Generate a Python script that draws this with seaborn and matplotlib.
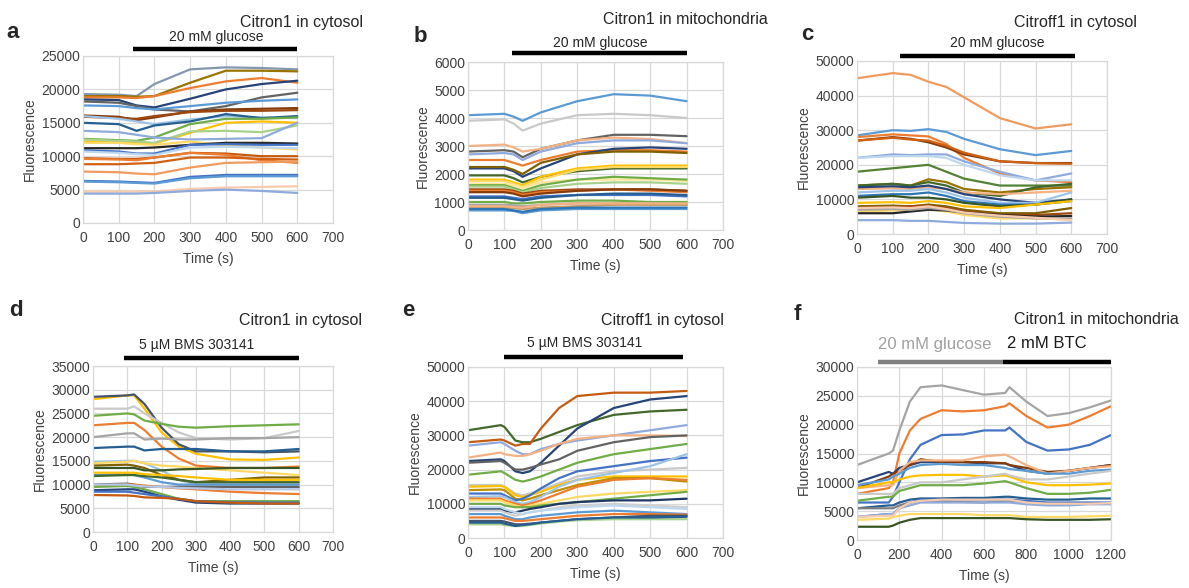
import matplotlib
matplotlib.use('Agg')
import matplotlib.pyplot as plt
import seaborn as sns
import pandas as pd

# ---- data (time in s, fluorescence in a.u.) ----
A_TIME = [0, 100, 150, 200, 300, 400, 500, 600]
A_TRACES = [
    [19300, 19200, 19000, 20800, 23000, 23300, 23200, 23000],
    [19000, 19000, 18900, 19000, 21000, 22800, 22800, 22700],
    [18800, 18800, 18700, 19000, 20200, 21200, 21700, 21000],
    [18500, 18400, 17600, 17300, 18600, 20000, 20800, 21300],
    [18200, 18000, 17500, 17000, 16700, 17500, 18800, 19500],
    [17600, 17500, 17200, 17000, 17500, 18000, 18300, 18500],
    [16100, 15900, 15400, 15800, 16700, 17000, 17100, 17200],
    [15900, 15700, 15600, 16000, 16600, 16800, 16800, 16900],
    [16000, 15600, 15200, 14800, 15500, 16000, 15800, 15700],
    [15000, 14800, 13800, 14600, 15200, 16300, 15700, 16000],
    [12600, 12400, 12300, 12800, 14800, 15600, 15600, 15800],
    [12200, 12100, 12000, 11900, 13500, 15000, 15200, 15000],
    [12500, 12300, 12200, 12000, 13700, 13800, 13600, 14600],
    [13800, 13600, 13200, 12800, 12500, 12600, 12700, 15000],
    [12000, 12000, 11800, 11700, 12200, 11600, 11300, 11000],
    [11200, 11200, 11200, 11300, 11700, 12000, 12000, 11900],
    [10900, 10700, 10400, 10400, 11700, 11800, 11700, 11700],
    [10700, 10500, 10300, 10200, 11300, 11400, 11300, 11200],
    [9700, 9600, 9600, 9800, 10500, 10400, 10000, 10000],
    [9600, 9500, 9400, 9800, 10500, 10200, 9400, 9000],
    [8800, 8800, 8900, 9000, 9800, 9800, 9600, 9500],
    [7700, 7600, 7400, 7300, 8300, 9000, 9100, 9200],
    [6300, 6200, 6100, 6000, 6900, 7200, 7200, 7200],
    [6200, 6100, 6000, 5900, 6700, 7000, 7000, 7000],
    [4700, 4700, 4700, 4700, 5100, 5300, 5400, 5500],
    [4400, 4400, 4400, 4500, 4800, 5000, 4800, 4500],
]

B_TIME = [0, 100, 125, 150, 200, 300, 400, 500, 600]
B_TRACES = [
    [4100, 4150, 4050, 3900, 4200, 4600, 4850, 4800, 4600],
    [3900, 3950, 3800, 3550, 3800, 4100, 4150, 4100, 4000],
    [2800, 2850, 2800, 2600, 2900, 3200, 3400, 3400, 3350],
    [3000, 3050, 2950, 2800, 2900, 3200, 3300, 3250, 3100],
    [2700, 2750, 2700, 2500, 2800, 3100, 3200, 3200, 3100],
    [2500, 2500, 2400, 2300, 2500, 2800, 2850, 2850, 2800],
    [2200, 2200, 2100, 1900, 2200, 2700, 2900, 2950, 2900],
    [2250, 2250, 2150, 2000, 2400, 2700, 2800, 2800, 2750],
    [1950, 1950, 1850, 1700, 1900, 2100, 2200, 2200, 2200],
    [1800, 1800, 1700, 1600, 1900, 2200, 2300, 2300, 2300],
    [1750, 1750, 1650, 1550, 1800, 2150, 2250, 2250, 2250],
    [1650, 1650, 1600, 1500, 1700, 1800, 1800, 1800, 1750],
    [1600, 1600, 1500, 1400, 1600, 1800, 1900, 1850, 1800],
    [1550, 1550, 1450, 1350, 1500, 1650, 1700, 1700, 1650],
    [1450, 1450, 1400, 1300, 1400, 1450, 1450, 1450, 1400],
    [1400, 1400, 1350, 1250, 1350, 1400, 1450, 1400, 1350],
    [1350, 1350, 1300, 1200, 1300, 1400, 1450, 1450, 1400],
    [1200, 1200, 1150, 1100, 1200, 1250, 1250, 1250, 1200],
    [1150, 1150, 1100, 1050, 1150, 1250, 1300, 1300, 1250],
    [1000, 1000, 950, 950, 1000, 1050, 1050, 1000, 1000],
    [900, 900, 880, 850, 900, 950, 950, 950, 900],
    [800, 800, 780, 750, 800, 850, 900, 900, 900],
    [850, 850, 820, 800, 900, 950, 950, 950, 950],
    [700, 700, 680, 600, 700, 750, 750, 750, 750],
    [750, 750, 700, 650, 750, 800, 800, 800, 800],
]

C_TIME = [0, 100, 150, 200, 250, 300, 400, 500, 600]
C_TRACES = [
    [45000, 46500, 46000, 44000, 42500, 39500, 33500, 30500, 31700],
    [28500, 30000, 29800, 30300, 29500, 27500, 24500, 22800, 24000],
    [28000, 28800, 28500, 28200, 26000, 22000, 17500, 15500, 15000],
    [27000, 28000, 27500, 26500, 25000, 23000, 21000, 20500, 20500],
    [27000, 27800, 27300, 27000, 25500, 23500, 21000, 20500, 20300],
    [22000, 23000, 22800, 23000, 23000, 21000, 18000, 15500, 17500],
    [22000, 22500, 22500, 22500, 22000, 20000, 17000, 15500, 15500],
    [18000, 19000, 19500, 20000, 18000, 16000, 14000, 14000, 14000],
    [14000, 14500, 14000, 15800, 15000, 13000, 12000, 13000, 13500],
    [14000, 14500, 14000, 15000, 14000, 12000, 11000, 13500, 14500],
    [13000, 13200, 13000, 13500, 13000, 12000, 11500, 12000, 12500],
    [13500, 13800, 13500, 14000, 13000, 11500, 10000, 9000, 10000],
    [12000, 12500, 12500, 13000, 12000, 10500, 9000, 9000, 12000],
    [11000, 11500, 11500, 12000, 11000, 9500, 8500, 8500, 9500],
    [10500, 11000, 10500, 10500, 10000, 9000, 8000, 8500, 10000],
    [9000, 9200, 9000, 9500, 9000, 8000, 7500, 8500, 9500],
    [8000, 8200, 8000, 8500, 8000, 7000, 6000, 6000, 7500],
    [7500, 7800, 8000, 8200, 7500, 6500, 5500, 5500, 6000],
    [6500, 6800, 7000, 7200, 6500, 5500, 4500, 4500, 4200],
    [6000, 6000, 6500, 7000, 6800, 6200, 5500, 5000, 5200],
    [7000, 7200, 7000, 7500, 7000, 6000, 5000, 4500, 4500],
    [4000, 4000, 3800, 3800, 3500, 3200, 3000, 3000, 3300],
    [7500, 7700, 7500, 8000, 7200, 6200, 5300, 4700, 4000],
]

D_TIME = [0, 100, 120, 150, 200, 250, 300, 400, 500, 600]
D_TRACES = [
    [28000, 28800, 28800, 26000, 21000, 18000, 16500, 15300, 15200, 15700],
    [28500, 28800, 29000, 27000, 22000, 18500, 17000, 17000, 16800, 17000],
    [26000, 26000, 26500, 25000, 23000, 21000, 19800, 19500, 19800, 21300],
    [24500, 25000, 24800, 23500, 22800, 22200, 22000, 22300, 22500, 22700],
    [22500, 23000, 23000, 21500, 18000, 15500, 14000, 13500, 13500, 13800],
    [20000, 20800, 20800, 19500, 19700, 19500, 19500, 19800, 19800, 20000],
    [17700, 18000, 18000, 17200, 17500, 17500, 17500, 17000, 17000, 17500],
    [14800, 15000, 15000, 14500, 13000, 11000, 10000, 10000, 10000, 10000],
    [14500, 14800, 15000, 14500, 14000, 13800, 13500, 13000, 12500, 12000],
    [14000, 14200, 14000, 13500, 12000, 11000, 10500, 11000, 11500, 11500],
    [13500, 13500, 13500, 13000, 13000, 13200, 13300, 13500, 13500, 13500],
    [12000, 12200, 12000, 11500, 10500, 10000, 10000, 10000, 10000, 10000],
    [11800, 12000, 12000, 11800, 11500, 11000, 10500, 10500, 10500, 10500],
    [12500, 12500, 12500, 12200, 12000, 11800, 11500, 11000, 11000, 11000],
    [10000, 10200, 10000, 9500, 9500, 9500, 9500, 9500, 9500, 9500],
    [9800, 10000, 10000, 9800, 9500, 9200, 9000, 8500, 8200, 8000],
    [9500, 9700, 9500, 9000, 8000, 7000, 6500, 6500, 6500, 6500],
    [8800, 9000, 9000, 8500, 7500, 6800, 6200, 6000, 6000, 6000],
    [8500, 8500, 8300, 8000, 7500, 7000, 6500, 6300, 6200, 6200],
    [7800, 7700, 7600, 7300, 7200, 7000, 6500, 6200, 6000, 6000],
    [10000, 10000, 9800, 9600, 9500, 9300, 9200, 9000, 9000, 9000],
]

E_TIME = [0, 90, 100, 130, 150, 170, 200, 250, 300, 400, 500, 600]
E_TRACES = [
    [31500, 33000, 32500, 28500, 28000, 28000, 29000, 31000, 33000, 36000, 37000, 37500],
    [28000, 28800, 28500, 27000, 27500, 27500, 32000, 38000, 41500, 42500, 42500, 43000],
    [27000, 28000, 27500, 25500, 24500, 24500, 26000, 27500, 28500, 30000, 31500, 33000],
    [22500, 23000, 22500, 19500, 19000, 19500, 22000, 27000, 32000, 38000, 40500, 41500],
    [23500, 25000, 24500, 24000, 24000, 24500, 25500, 27500, 29000, 30000, 30000, 29800],
    [22000, 22500, 22000, 20000, 20000, 20500, 21500, 23000, 25500, 28000, 29500, 30000],
    [18500, 19500, 19000, 17000, 16500, 17000, 18000, 20000, 22000, 24500, 26000, 27500],
    [15500, 15500, 15000, 13000, 12500, 13000, 14000, 16000, 18000, 19500, 20000, 20500],
    [15000, 15200, 15000, 12500, 12000, 12500, 13500, 15500, 17000, 18000, 18000, 18000],
    [14000, 14200, 14000, 11500, 11000, 11500, 12500, 14000, 15500, 17500, 17500, 16500],
    [13000, 13000, 12500, 11000, 11500, 12500, 14500, 17500, 19500, 21000, 22500, 23500],
    [12000, 12200, 12000, 10500, 10000, 10500, 12000, 15000, 17000, 19000, 21000, 24500],
    [11500, 11500, 11000, 10000, 9500, 10000, 11000, 13000, 15000, 17000, 17500, 17000],
    [11000, 11000, 10500, 9500, 9000, 9500, 10000, 11000, 12000, 13000, 13500, 14000],
    [10000, 10000, 9500, 9000, 9000, 9000, 9500, 10000, 10500, 11500, 12500, 13500],
    [8500, 8500, 8000, 7500, 8000, 8500, 9000, 10000, 10500, 11000, 11000, 11500],
    [8000, 8000, 7500, 6500, 7000, 7500, 8000, 9000, 9500, 10000, 9500, 9000],
    [7000, 7000, 6500, 5500, 5500, 6000, 6500, 7000, 7500, 8000, 7500, 7000],
    [6000, 6000, 5800, 5000, 5000, 5200, 5500, 6000, 6500, 7000, 7000, 6800],
    [5000, 5000, 4800, 4000, 4000, 4200, 4500, 5000, 5500, 6000, 6500, 6500],
    [4000, 4000, 3800, 3500, 3500, 3800, 4200, 4800, 5200, 5500, 5500, 5500],
    [4500, 4500, 4200, 3500, 3800, 4000, 4500, 5000, 5500, 6000, 6000, 6200],
    [9000, 9000, 8500, 7500, 7000, 7500, 8000, 8500, 9000, 9500, 9000, 8500],
]

F_TIME = [0, 150, 170, 200, 250, 300, 400, 500, 600, 700, 720, 800, 900, 1000, 1100, 1200]
F_TRACES = [
    [13000, 15000, 15500, 19000, 24000, 26500, 26800, 26000, 25200, 25500, 26500, 24000, 21500, 22000, 23000, 24200],
    [8000, 9000, 10000, 15000, 19000, 21000, 22500, 22300, 22500, 23200, 23700, 21500, 19500, 20000, 21500, 23200],
    [6500, 6500, 7500, 10000, 14000, 16500, 18200, 18300, 19000, 19000, 19500, 17000, 15500, 15700, 16500, 18200],
    [10000, 11800, 11500, 12500, 13000, 13500, 13500, 13500, 13300, 13300, 13000, 12000, 11500, 12000, 12500, 13000],
    [9000, 11000, 11500, 12000, 13000, 14000, 13500, 13500, 13500, 13300, 13000, 12500, 11800, 12000, 12500, 13000],
    [9000, 9500, 9500, 12000, 13500, 13800, 13800, 13800, 14500, 14800, 14500, 13000, 11500, 12000, 12500, 12800],
    [9500, 10500, 11000, 11500, 12500, 13000, 13200, 13000, 13000, 12500, 12300, 12000, 11500, 11500, 12000, 12200],
    [9000, 10000, 10000, 10500, 11000, 11200, 11300, 11300, 11000, 11200, 11000, 10000, 9500, 9500, 9600, 9800],
    [8000, 8000, 8000, 9000, 9500, 10000, 10000, 10500, 11000, 11500, 11200, 10500, 10500, 11000, 11500, 12000],
    [6800, 7500, 7500, 8500, 9000, 9500, 9500, 9500, 9800, 10200, 10000, 9000, 8000, 8000, 8200, 8700],
    [5500, 6000, 6000, 6500, 7000, 7200, 7200, 7300, 7300, 7500, 7500, 7200, 7000, 7000, 7200, 7200],
    [5500, 5500, 5500, 6000, 6500, 6800, 6800, 6600, 6500, 6800, 6800, 6500, 6200, 6200, 6300, 6300],
    [4000, 4500, 4500, 5500, 6500, 7000, 7000, 7000, 7000, 7000, 7000, 6800, 6500, 6500, 6500, 6500],
    [4000, 4500, 4500, 5500, 6000, 6500, 6500, 6500, 6500, 6500, 6500, 6200, 6000, 6000, 6200, 6200],
    [3500, 3700, 4000, 4200, 4500, 4500, 4500, 4500, 4300, 4300, 4300, 4000, 4000, 4000, 4100, 4200],
    [2300, 2300, 2500, 3000, 3500, 3800, 3800, 3800, 3800, 3800, 3800, 3600, 3500, 3500, 3500, 3600],
    [4000, 4200, 4200, 5500, 6500, 6800, 7000, 7000, 7000, 7000, 7000, 6500, 6300, 6300, 6300, 6400],
]

# ---- line colours (Excel-like) ----
A_COLORS = ['#8497B0', '#997300', '#ED7D31', '#264478', '#636363', '#5B9BD5', '#843C0C',
            '#9E480E', '#9DC3E6', '#255E91', '#70AD47', '#FFC000', '#A9D18E', '#8FAADC',
            '#FFD966', '#262626', '#4472C4', '#BDD7EE', '#C55A11', '#ED7D31', '#D26012',
            '#F19A5E', '#4472C4', '#5B9BD5', '#F8CBAD', '#8FAADC']
B_COLORS = ['#5B9BD5', '#C9C9C9', '#636363', '#F4B183', '#8FAADC', '#ED7D31', '#264478',
            '#7F6000', '#43682B', '#FFC000', '#FFD966', '#FFE699', '#70AD47', '#A9D18E',
            '#9E480E', '#ED7D31', '#843C0C', '#4472C4', '#255E91', '#70AD47', '#A5A5A5',
            '#C59B5F', '#F4B183', '#5B9BD5', '#2E75B6']
C_COLORS = ['#F19A5E', '#5B9BD5', '#ED7D31', '#843C0C', '#D26012', '#8FAADC', '#BDD7EE',
            '#548235', '#997300', '#43682B', '#F4B183', '#264478', '#9DC3E6', '#2E75B6',
            '#375623', '#FFC000', '#7F6000', '#9E480E', '#FFD966', '#262626', '#A5A5A5',
            '#8FAADC', '#F8CBAD']
D_COLORS = ['#FFC000', '#44546A', '#C9C9C9', '#70AD47', '#ED7D31', '#A5A5A5', '#255E91',
            '#9DC3E6', '#FFD966', '#7F6000', '#375623', '#5B9BD5', '#43682B', '#FFC000',
            '#636363', '#ED7D31', '#70AD47', '#264478', '#4472C4', '#C55A11', '#B4C7E7']
E_COLORS = ['#43682B', '#C55A11', '#8FAADC', '#264478', '#F4B183', '#636363', '#70AD47',
            '#C9C9C9', '#FFC000', '#BF8F00', '#4472C4', '#9DC3E6', '#ED7D31', '#FFD966',
            '#70AD47', '#1F3864', '#D0CECE', '#5B9BD5', '#ED7D31', '#44546A', '#A9D18E',
            '#255E91', '#BDD7EE']
F_COLORS = ['#A5A5A5', '#ED7D31', '#4472C4', '#264478', '#843C0C', '#F4B183', '#5B9BD5',
            '#FFC000', '#C9C9C9', '#70AD47', '#255E91', '#7F7F7F', '#4472C4', '#8FAADC',
            '#FFD966', '#375623', '#F8CBAD']

W, H = 1189, 588


def px(x, y):
    return x / W, 1 - y / H


def draw_panel(ax, times, traces, colors, ymax, ystep, xmax, xstep):
    rows = []
    for i, tr in enumerate(traces):
        for t, v in zip(times, tr):
            rows.append({'t': t, 'v': v, 'trace': i})
    df = pd.DataFrame(rows)
    sns.lineplot(data=df, x='t', y='v', hue='trace', palette=colors, legend=False,
                 estimator=None, sort=False, lw=1.6, ax=ax)
    ax.set_xlim(0, xmax)
    ax.set_ylim(0, ymax)
    ax.set_xticks(range(0, xmax + 1, xstep))
    ax.set_yticks(range(0, ymax + 1, ystep))
    ax.grid(True, color='#D9D9D9', lw=0.9)
    for s in ax.spines.values():
        s.set_color('#D9D9D9')
        s.set_linewidth(0.9)
    ax.tick_params(axis='x', length=0, labelsize=10, colors='#404040', pad=6)
    ax.tick_params(axis='y', length=0, labelsize=10, colors='#404040', pad=2)
    ax.set_xlabel('Time (s)', fontsize=10, color='#404040', labelpad=5)
    ax.set_ylabel('Fluorescence', fontsize=10, color='#404040', labelpad=3)


def add_bar(ax, x0, x1, ypx, color='black'):
    # ypx: vertical position in figure pixels (top origin)
    y = 1 - ypx / H
    pos = ax.get_position()
    ya = (y - pos.y0) / pos.height
    ax.plot([x0, x1], [ya, ya], transform=ax.get_xaxis_transform(), color=color,
            lw=3.2, clip_on=False, solid_capstyle='butt')


sns.set_style('whitegrid')
plt.rcParams['font.family'] = ['Liberation Sans', 'DejaVu Sans']

fig = plt.figure(figsize=(W / 100, H / 100), dpi=100)

ax_a = fig.add_axes([83 / W, 1 - 223 / H, 250 / W, 167 / H])
ax_b = fig.add_axes([468 / W, 1 - 230 / H, 255 / W, 168 / H])
ax_c = fig.add_axes([857 / W, 1 - 234 / H, 250 / W, 173 / H])
ax_d = fig.add_axes([93 / W, 1 - 532 / H, 240 / W, 166 / H])
ax_e = fig.add_axes([468 / W, 1 - 538 / H, 255 / W, 171 / H])
ax_f = fig.add_axes([857 / W, 1 - 540 / H, 254 / W, 173 / H])

draw_panel(ax_a, A_TIME, A_TRACES, A_COLORS, 25000, 5000, 700, 100)
draw_panel(ax_b, B_TIME, B_TRACES, B_COLORS, 6000, 1000, 700, 100)
draw_panel(ax_c, C_TIME, C_TRACES, C_COLORS, 50000, 10000, 700, 100)
draw_panel(ax_d, D_TIME, D_TRACES, D_COLORS, 35000, 5000, 700, 100)
draw_panel(ax_e, E_TIME, E_TRACES, E_COLORS, 50000, 10000, 700, 100)
draw_panel(ax_f, F_TIME, F_TRACES, F_COLORS, 30000, 5000, 1200, 200)

# treatment bars
add_bar(ax_a, 140, 600, 49)
add_bar(ax_b, 120, 600, 53)
add_bar(ax_c, 120, 610, 56)
add_bar(ax_d, 90, 600, 358)
add_bar(ax_e, 100, 590, 357)
add_bar(ax_f, 100, 690, 362, color='#808080')
add_bar(ax_f, 690, 1200, 362)

# panel letters
for letter, x, y in [('a', 13, 33), ('b', 420, 37), ('c', 807, 34),
                     ('d', 16, 311), ('e', 408, 311), ('f', 797, 314)]:
    fig.text(*px(x, y), letter, fontsize=16, fontweight='bold', ha='center', va='center')

# panel titles (right aligned)
for title, x, y in [('Citron1 in cytosol', 363, 22), ('Citron1 in mitochondria', 768, 20),
                    ('Citroff1 in cytosol', 1137, 22), ('Citron1 in cytosol', 362, 321),
                    ('Citroff1 in cytosol', 724, 321), ('Citron1 in mitochondria', 1179, 319)]:
    fig.text(*px(x, y), title, fontsize=11.5, ha='right', va='center', color='#262626')

# treatment labels
for label, x, y in [('20 mM glucose', 216, 37), ('20 mM glucose', 600, 43),
                    ('20 mM glucose', 997, 43), ('5 µM BMS 303141', 197, 345),
                    ('5 µM BMS 303141', 585, 343)]:
    fig.text(*px(x, y), label, fontsize=10, ha='center', va='center', color='#262626')
fig.text(*px(935, 344), '20 mM glucose', fontsize=12, ha='center', va='center', color='#A0A0A0')
fig.text(*px(1047, 344), '2 mM BTC', fontsize=12, ha='center', va='center', color='#1A1A1A')

fig.savefig('out.png', dpi=100)
